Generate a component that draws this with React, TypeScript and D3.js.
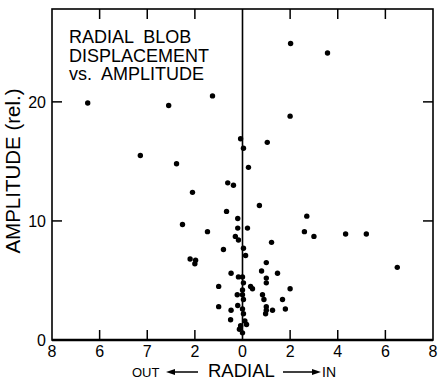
import React, { useEffect, useRef } from 'react';
import * as d3 from 'd3';

// radial displacement (negative = OUT, positive = IN) and relative amplitude
const radial = [
  -6.5, -3.1, -1.26, -4.29, -2.77, 2.02, 3.57, 2.0, 1.04, -0.08,
  0.04, 0.25, -0.62, -0.38, -2.1, 0.71, -0.67, -0.2, 2.7, -2.52,
  -1.47, -0.2, 0.21, 2.6, 3.0, 4.33, 5.2, 6.5, -0.3, -0.17,
  1.22, -0.8, 0.04, 0.13, 1.0, 0.8, 1.47, -0.48, -0.17, 0.0,
  1.0, 1.0, -1.0, 0.34, 0.42, 2.0, 0.84, 0.9, 1.68, -0.22,
  -1.0, -0.48, -0.2, 1.0, 1.0, 1.26, 1.8, 0.97, -0.5, -0.13,
  0.17, 0.0, -2.2, -1.97, -2.0, 0.04, 0.0, 0.04, 0.04, 0.1,
  -0.08, 0.0, 0.0,
];
const amplitude = [
  19.9, 19.7, 20.5, 15.5, 14.8, 24.9, 24.1, 18.8, 16.6, 16.9,
  16.1, 14.5, 13.2, 13.0, 12.4, 11.3, 10.8, 10.2, 10.4, 9.7,
  9.1, 9.4, 9.4, 9.1, 8.7, 8.9, 8.9, 6.1, 8.7, 8.4,
  8.2, 7.6, 7.7, 7.1, 6.5, 5.8, 5.6, 5.6, 5.3, 5.3,
  5.2, 4.8, 4.5, 4.5, 4.3, 4.3, 3.8, 3.4, 3.4, 3.8,
  2.8, 2.5, 2.9, 2.8, 2.5, 2.5, 2.6, 2.2, 1.7, 0.9,
  1.3, 0.6, 6.8, 6.7, 6.4, 4.8, 4.2, 3.4, 2.2, 1.6,
  1.2, 2.6, 3.8,
];

const xTickValues = [-8, -6, -4, -2, 0, 2, 4, 6, 8];
const xTickLabels = ['8', '6', '7', '2', '0', '2', '4', '6', '8'];
const yTickValues = [0, 10, 20];
const titleLines = ['RADIAL  BLOB', 'DISPLACEMENT', 'vs.  AMPLITUDE'];

const font = '"Liberation Sans", Arial, sans-serif';

const App: React.FC = () => {
  const svgRef = useRef<SVGSVGElement>(null);
  const width = 439;
  const height = 381;

  useEffect(() => {
    if (!svgRef.current) return;
    const svg = d3.select(svgRef.current);
    svg.selectAll('*').remove();

    const left = 52, right = 433, top = 9, bottom = 340;

    const x = d3.scaleLinear().domain([-8, 8]).range([left, right]);
    const y = d3.scaleLinear().domain([0, 27.8]).range([bottom, top]);

    const g = svg.append('g');

    // frame
    g.append('rect')
      .attr('x', left).attr('y', top)
      .attr('width', right - left).attr('height', bottom - top)
      .attr('fill', 'none').attr('stroke', '#000').attr('stroke-width', 1.6);
    g.append('line')
      .attr('x1', left).attr('x2', right).attr('y1', bottom).attr('y2', bottom)
      .attr('stroke', '#000').attr('stroke-width', 2.4);

    // zero line
    g.append('line')
      .attr('x1', x(0)).attr('x2', x(0)).attr('y1', top).attr('y2', bottom)
      .attr('stroke', '#000').attr('stroke-width', 1.6);

    // inward ticks
    const inner = xTickValues.filter(v => v !== -8 && v !== 8 && v !== 0);
    g.append('g').selectAll('line.tt').data(inner).join('line')
      .attr('x1', d => x(d)).attr('x2', d => x(d))
      .attr('y1', top).attr('y2', top + 10)
      .attr('stroke', '#000').attr('stroke-width', 1.5);
    g.append('g').selectAll('line.bt').data(inner).join('line')
      .attr('x1', d => x(d)).attr('x2', d => x(d))
      .attr('y1', bottom).attr('y2', bottom - 10)
      .attr('stroke', '#000').attr('stroke-width', 1.5);
    g.append('g').selectAll('line.lt').data(yTickValues.filter(v => v > 0)).join('line')
      .attr('x1', left).attr('x2', left + 10)
      .attr('y1', d => y(d)).attr('y2', d => y(d))
      .attr('stroke', '#000').attr('stroke-width', 1.5);
    g.append('g').selectAll('line.rt').data(yTickValues.filter(v => v > 0)).join('line')
      .attr('x1', right).attr('x2', right - 10)
      .attr('y1', d => y(d)).attr('y2', d => y(d))
      .attr('stroke', '#000').attr('stroke-width', 1.5);

    // tick labels
    g.append('g').selectAll('text').data(xTickValues).join('text')
      .attr('x', d => x(d)).attr('y', 357)
      .attr('text-anchor', 'middle')
      .attr('font-family', font).attr('font-size', 16)
      .text((d, i) => xTickLabels[i]);
    g.append('g').selectAll('text').data(yTickValues).join('text')
      .attr('x', 46).attr('y', d => y(d) + 6)
      .attr('text-anchor', 'end')
      .attr('font-family', font).attr('font-size', 16)
      .text(d => d);

    // y label
    g.append('text')
      .attr('transform', `translate(20,171)rotate(-90)`)
      .attr('text-anchor', 'middle')
      .attr('font-family', font).attr('font-size', 20.5)
      .text('AMPLITUDE (rel.)');

    // x label: OUT <-- RADIAL --> IN
    const xl = g.append('g').attr('font-family', font);
    xl.append('text').attr('x', 132).attr('y', 377).attr('font-size', 13).text('OUT');
    xl.append('text').attr('x', 208).attr('y', 377).attr('font-size', 18.5).text('RADIAL');
    xl.append('text').attr('x', 322).attr('y', 377).attr('font-size', 14).text('IN');
    xl.append('line').attr('x1', 170).attr('x2', 198).attr('y1', 372).attr('y2', 372)
      .attr('stroke', '#000').attr('stroke-width', 1.5);
    xl.append('path').attr('d', 'M166,372 L175,369 L175,375 Z').attr('fill', '#000');
    xl.append('line').attr('x1', 283).attr('x2', 315).attr('y1', 372).attr('y2', 372)
      .attr('stroke', '#000').attr('stroke-width', 1.5);
    xl.append('path').attr('d', 'M321,372 L312,369 L312,375 Z').attr('fill', '#000');

    // title
    g.append('g').selectAll('text').data(titleLines).join('text')
      .attr('x', 69).attr('y', (d, i) => 43 + i * 18.5)
      .attr('font-family', font).attr('font-size', 18)
      .attr('xml:space', 'preserve')
      .style('white-space', 'pre')
      .text(d => d);

    // points
    g.append('g').selectAll('circle').data(radial).join('circle')
      .attr('cx', d => x(d))
      .attr('cy', (d, i) => y(amplitude[i]))
      .attr('r', 2.7)
      .attr('fill', '#000');
  }, []);

  return (
    <svg
      ref={svgRef}
      width={width}
      height={height}
      style={{ position: 'absolute', left: 0, top: 0, background: '#fff' }}
    />
  );
};

export default App;
